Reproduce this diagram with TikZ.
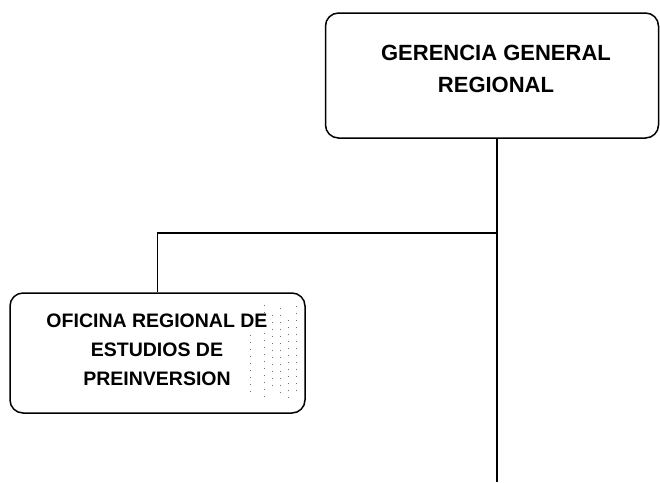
\documentclass[tikz,border=0pt]{standalone}
\usepackage{fontspec}
\setmainfont{Liberation Sans}
\tikzset{unit/.style={draw, line width=1.5pt, rounded corners=13pt, inner sep=0pt},
         unittext/.style={align=center, font=\bfseries\fontsize{22}{32}\selectfont},
         subtext/.style={align=center, font=\bfseries\fontsize{19.5}{29}\selectfont},
         link/.style={line width=1.8pt},
         speck/.style={black!55, line width=.6pt, dash pattern=on 1pt off 6pt}}

\begin{document}
\begin{tikzpicture}[x=1pt,y=-1pt]
    \useasboundingbox (0,0) rectangle (660,482);

    \node[unit, minimum width=333pt, minimum height=125pt] (gerencia) at (492,75.5) {};
    \node[unittext] (gerenciatxt) at (496,69) {GERENCIA GENERAL\\REGIONAL};

    \node[unit, minimum width=295pt, minimum height=120pt] (oficina) at (157.5,353) {};
    % scanned specks on the right side of the box
    \foreach \x/\a/\b in {250/335/398, 264/305/402, 272/315/392, 280/308/398, 288/320/404, 296/306/396}
      \draw[speck] (\x,\a) -- (\x,\b);
    \node[subtext] (oficinatxt) at (157,350) {OFICINA REGIONAL DE\\ESTUDIOS DE\\PREINVERSION};

    \coordinate (bottom) at (497,482);
    \coordinate (branch) at (497,233);
    \draw[link] ([xshift=5pt]gerencia.south) -- (bottom);
    \draw[link] (branch) -| (oficina.north);
\end{tikzpicture}
\end{document}
